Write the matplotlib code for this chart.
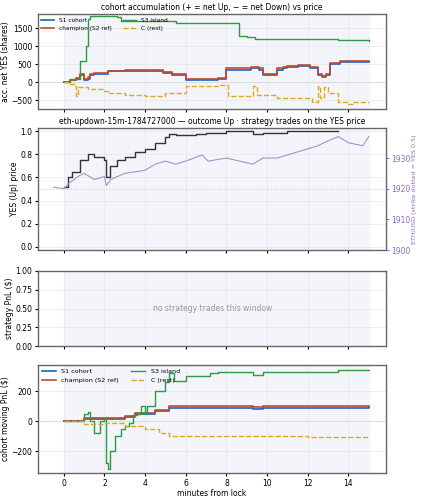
import matplotlib
matplotlib.use("Agg")
import matplotlib.pyplot as plt

# panel 1: accumulated net YES shares (step series, minutes from lock)
t_s1 = [0, 0.3, 0.6, 0.8, 1.0, 1.2, 1.3, 1.5, 2.2, 3.0, 3.3, 4.0, 4.9, 5.3, 6.0, 7.6, 8.0, 9.0, 9.2, 9.6, 9.8, 10.5, 10.8, 11.0, 11.5, 12.1, 12.5, 12.7, 12.9, 13.1, 13.6, 15.0]
v_s1 = [0, 50, 100, 200, 50, 100, 200, 220, 300, 300, 320, 300, 250, 200, 50, 80, 350, 350, 400, 350, 200, 350, 400, 430, 450, 400, 200, 150, 200, 500, 550, 550]
v_champ = [0, 60, 120, 230, 80, 130, 230, 250, 320, 330, 350, 330, 280, 230, 80, 110, 380, 380, 430, 380, 230, 380, 430, 460, 480, 430, 230, 180, 230, 530, 600, 580]
t_s3 = [0, 0.3, 0.6, 0.8, 1.1, 1.2, 1.3, 2.6, 2.8, 5.5, 8.6, 9.0, 9.4, 13.5, 15.0]
v_s3 = [0, 80, 100, 600, 1000, 1750, 1850, 1830, 1700, 1650, 1300, 1250, 1200, 1180, 1160]
t_c = [0, 0.2, 0.5, 0.6, 0.7, 1.2, 2.0, 2.2, 3.0, 4.0, 5.0, 6.0, 7.6, 8.1, 9.2, 9.3, 9.5, 10.5, 12.2, 12.5, 12.6, 12.8, 13.0, 13.5, 14.0, 14.2, 15.0]
v_c = [0, -50, -100, -400, -150, -200, -250, -300, -350, -380, -300, -100, -80, -400, -400, -100, -350, -450, -550, -100, -450, -150, -300, -550, -600, -550, -550]

# panel 2: YES price and ETH/USD
t_yes = [0, 0.2, 0.4, 0.8, 1.2, 1.5, 2.0, 2.1, 2.3, 2.6, 3.0, 3.5, 4.0, 4.5, 5.0, 5.2, 5.5, 6.5, 7.0, 8.0, 9.3, 9.8, 11.0, 13.5]
v_yes = [0.52, 0.6, 0.65, 0.75, 0.8, 0.78, 0.75, 0.6, 0.7, 0.75, 0.78, 0.82, 0.85, 0.9, 0.95, 0.98, 0.97, 0.98, 0.99, 1.0, 0.98, 0.99, 1.0, 1.0]
t_eth = [-0.5, 0, 0.3, 0.7, 1.0, 1.5, 2.0, 2.1, 2.3, 3.0, 4.0, 4.5, 5.0, 5.5, 6.0, 6.8, 7.1, 8.0, 9.3, 9.8, 10.5, 11.0, 12.0, 12.5, 12.8, 13.5, 14.0, 14.7, 15.0]
v_eth = [1920.5, 1920, 1922, 1924, 1925, 1923, 1924, 1921, 1923, 1925, 1926, 1928, 1929, 1928, 1929, 1931, 1929, 1930, 1928, 1930, 1930, 1931, 1933, 1934, 1935, 1937, 1935, 1934, 1937]

# panel 4: cohort moving PnL
t_p1 = [0, 1.0, 2.0, 3.0, 3.5, 4.5, 5.2, 9.0, 9.3, 9.8, 15.0]
v_p1 = [0, 15, 15, 30, 50, 70, 90, 90, 85, 90, 95]
v_p2 = [0, 20, 20, 35, 55, 75, 100, 100, 95, 100, 105]
t_p3 = [0, 1.0, 1.2, 1.3, 1.5, 1.8, 2.0, 2.1, 2.2, 2.3, 2.5, 2.8, 3.0, 3.2, 3.4, 3.6, 3.8, 4.0, 4.1, 4.5, 5.0, 5.2, 5.4, 6.0, 7.2, 7.6, 9.0, 9.3, 9.8, 13.5, 15.0]
v_p3 = [0, 50, 60, 0, -80, 0, 20, -280, -320, -200, -100, -50, -30, -10, 40, 50, 100, 50, 100, 200, 260, 320, 270, 300, 320, 330, 330, 310, 330, 340, 340]
t_pc = [0, 1.0, 2.0, 3.0, 4.0, 4.7, 5.2, 9.3, 10.0, 12.0, 15.0]
v_pc = [0, -20, -10, -30, -50, -80, -100, -95, -100, -105, -105]

BLUE, RED, GREEN, GOLD = "#1f5fbf", "#c0492b", "#2e9a44", "#e0a81c"
FS = 5.5

fig = plt.figure(figsize=(4.21, 5.0), dpi=100)
pos = [(0.09, 0.782, 0.827, 0.19), (0.09, 0.50, 0.827, 0.244),
       (0.09, 0.308, 0.827, 0.15), (0.09, 0.054, 0.827, 0.216)]
axes = [fig.add_axes(p) for p in pos]

for ax in axes:
    ax.axvspan(0, 15, color="#f3f5fa", zorder=0)
    ax.grid(True, color="#e6e6e6", lw=0.5)
    ax.set_xlim(-1.27, 15.85)
    ax.set_xticks(range(0, 15, 2))
    ax.tick_params(labelsize=FS, length=2.5, pad=1.5)
    for s in ax.spines.values():
        s.set_color("#666666")
        s.set_linewidth(1.0)
    ax.set_axisbelow(True)
for ax in axes[:3]:
    ax.tick_params(labelbottom=False)

ax = axes[0]
ax.axhline(0, color="#dddddd", lw=0.8)
ax.step(t_s1, v_s1, where="post", color=BLUE, lw=1.2, label="S1 cohort")
ax.step(t_s1, v_champ, where="post", color=RED, lw=1.2, label="champion (S2 ref)")
ax.step(t_s3, v_s3, where="post", color=GREEN, lw=1.0, label="S3 island")
ax.step(t_c, v_c, where="post", color=GOLD, lw=1.0, ls="--", label="C (rest)")
ax.set_ylim(-750, 1900)
ax.set_yticks([-500, 0, 500, 1000, 1500])
ax.set_ylabel("acc. net YES (shares)", fontsize=FS, labelpad=1)
ax.set_title("cohort accumulation (+ = net Up, − = net Down) vs price", fontsize=FS, pad=3)
ax.legend(loc="upper left", ncol=2, fontsize=4.2, frameon=False, handlelength=2.2, borderaxespad=0.2)

ax = axes[1]
ax.axhline(0.5, color="#cccccc", lw=0.8, ls=":")
ax.step(t_yes, v_yes, where="post", color="#333333", lw=1.0)
ax.set_ylim(-0.03, 1.03)
ax.set_ylabel("YES (Up) price", fontsize=FS, labelpad=1)
ax.set_title("eth-updown-15m-1784727000 — outcome Up · strategy trades on the YES price", fontsize=FS, pad=3)
ax2 = ax.twinx()
ax2.plot(t_eth, v_eth, color="#a393c8", lw=0.8)
ax2.set_ylim(1900.2, 1939.8)
ax2.set_yticks([1900, 1910, 1920, 1930])
ax2.tick_params(labelsize=FS, colors="#8c6fbd", length=2.5, pad=1.5)
ax2.set_ylabel("ETH/USD (strike dotted = YES 0.5)", fontsize=4.6, color="#8c6fbd", labelpad=1)
for s in ax2.spines.values():
    s.set_visible(False)

ax = axes[2]
ax.set_ylim(0, 1)
ax.set_ylabel("strategy PnL ($)", fontsize=FS, labelpad=1)
ax.text(7.3, 0.5, "no strategy trades this window", ha="center", va="center", fontsize=FS, color="#999999")

ax = axes[3]
ax.axhline(0, color="#dddddd", lw=0.8)
ax.step(t_p1, v_p1, where="post", color=BLUE, lw=1.2, label="S1 cohort")
ax.step(t_p1, v_p2, where="post", color=RED, lw=1.2, label="champion (S2 ref)")
ax.step(t_p3, v_p3, where="post", color=GREEN, lw=1.0, label="S3 island")
ax.step(t_pc, v_pc, where="post", color=GOLD, lw=1.0, ls="--", label="C (rest)")
ax.set_ylim(-345, 375)
ax.set_yticks([-200, 0, 200])
ax.set_ylabel("cohort moving PnL ($)", fontsize=FS, labelpad=1)
ax.set_xlabel("minutes from lock", fontsize=FS, labelpad=1)
ax.legend(loc="upper left", ncol=2, fontsize=4.6, frameon=False, handlelength=2.2, borderaxespad=0.2)

fig.savefig("out.png", dpi=100)
